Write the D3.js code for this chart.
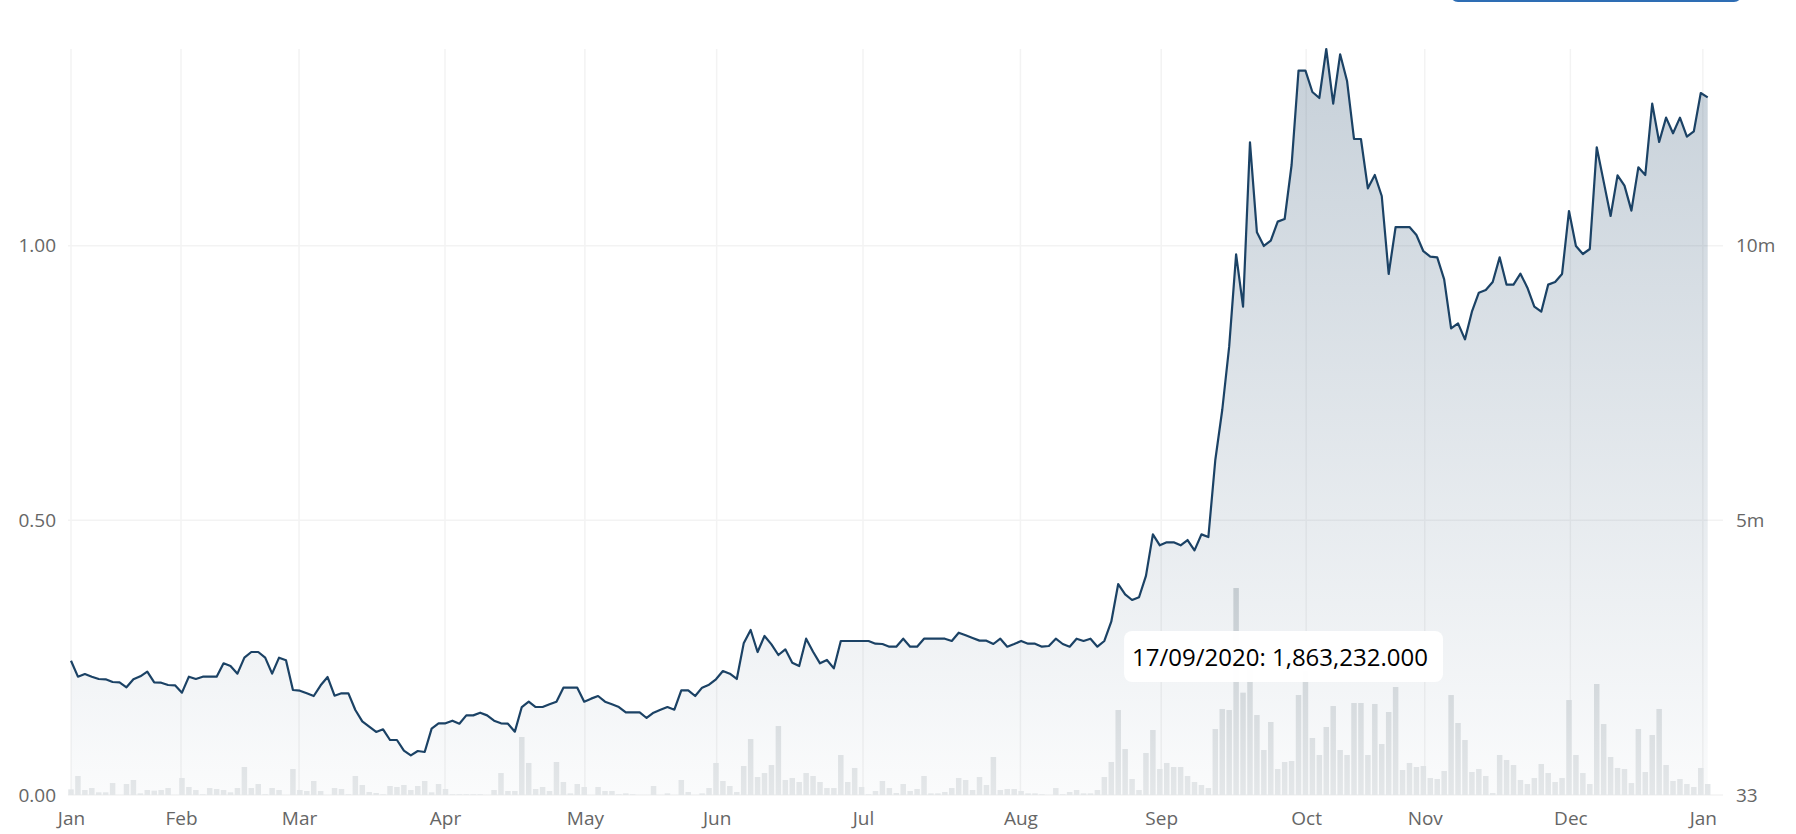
<!DOCTYPE html>
<html>
<head>
<meta charset="utf-8">
<script src="https://cdn.jsdelivr.net/npm/d3@7"></script>
<style>
  html, body { margin: 0; padding: 0; background: #ffffff; }
  svg { display: block; }
  text { font-family: "Open Sans", "Noto Sans", sans-serif; }
</style>
</head>
<body>
<svg id="chart" width="1796" height="834"></svg>
<script>
// ---- data (one point per traded session, 2020) ----
const price = [
  0.2445,0.2154,0.2203,0.2154,0.2112,0.2106,0.2057,0.2051,0.1960,0.2106,
  0.2160,0.2245,0.2051,0.2045,0.2003,0.1997,0.1863,0.2154,0.2112,0.2154,
  0.2154,0.2154,0.2397,0.2348,0.2209,0.2500,0.2603,0.2603,0.2500,0.2209,
  0.2500,0.2452,0.1912,0.1899,0.1851,0.1802,0.1997,0.2148,0.1808,0.1851,
  0.1851,0.1547,0.1341,0.1244,0.1147,0.1196,0.1001,0.1001,0.0807,0.0722,
  0.0801,0.0783,0.1208,0.1305,0.1305,0.1353,0.1298,0.1450,0.1450,0.1499,
  0.1450,0.1353,0.1305,0.1298,0.1153,0.1602,0.1699,0.1602,0.1602,0.1651,
  0.1699,0.1954,0.1954,0.1954,0.1699,0.1754,0.1802,0.1699,0.1651,0.1602,
  0.1505,0.1505,0.1505,0.1402,0.1499,0.1553,0.1602,0.1553,0.1906,0.1906,
  0.1802,0.1954,0.2008,0.2106,0.2257,0.2209,0.2112,0.2761,0.3004,0.2603,
  0.2895,0.2743,0.2549,0.2652,0.2409,0.2348,0.2846,0.2609,0.2397,0.2458,
  0.2306,0.2804,0.2804,0.2804,0.2804,0.2804,0.2755,0.2749,0.2700,0.2700,
  0.2846,0.2700,0.2700,0.2846,0.2846,0.2846,0.2846,0.2804,0.2955,0.2907,
  0.2858,0.2810,0.2810,0.2749,0.2846,0.2700,0.2749,0.2804,0.2755,0.2755,
  0.2700,0.2713,0.2846,0.2749,0.2700,0.2846,0.2804,0.2846,0.2700,0.2804,
  0.3155,0.3841,0.3653,0.3550,0.3600,0.3990,0.4745,0.4545,0.4600,0.4600,
  0.4545,0.4642,0.4454,0.4745,0.4697,0.6099,0.7009,0.8162,0.9843,0.8890,
  1.1882,1.0243,0.9995,1.0092,1.0438,1.0486,1.1469,1.3187,1.3187,1.2798,
  1.2689,1.3581,1.2586,1.3484,1.2998,1.1943,1.1943,1.1044,1.1287,1.0905,
  0.9485,1.0340,1.0340,1.0340,1.0195,0.9900,0.9800,0.9788,0.9388,0.8496,
  0.8587,0.8295,0.8799,0.9145,0.9193,0.9339,0.9788,0.9291,0.9291,0.9491,
  0.9236,0.8890,0.8799,0.9291,0.9339,0.9485,1.0632,0.9995,0.9849,0.9940,
  1.1791,1.1166,1.0541,1.1281,1.1093,1.0638,1.1427,1.1287,1.2586,1.1888,
  1.2331,1.2046,1.2331,1.1985,1.2082,1.2780,1.2701
];

// volume in thousands of shares
const volumeK = [
  103,346,91,127,49,49,218,0,200,273,
  30,91,79,91,127,0,309,146,91,12,
  127,109,91,49,127,510,127,200,12,127,
  91,0,473,91,73,255,73,0,127,109,
  12,346,182,55,36,12,164,146,182,91,
  164,255,49,200,109,12,12,12,12,12,
  0,91,400,73,73,1056,583,109,146,73,
  601,237,30,200,146,0,146,73,73,12,
  30,12,0,0,164,0,30,0,273,55,
  0,30,127,583,255,164,55,528,1019,328,
  400,546,1256,273,309,237,400,346,237,127,
  127,728,237,492,146,12,73,255,127,36,
  200,73,109,346,30,30,55,127,309,273,
  91,328,182,692,91,109,109,73,30,30,
  12,0,127,12,55,91,30,30,91,328,
  601,1547,837,291,91,765,1183,473,583,510,
  510,346,237,182,127,1201,1566,1547,3768,1863.232,
  2300,1456,819,1329,473,601,619,1820,2250,1038,
  728,1238,1620,819,728,1675,1675,728,1657,928,
  1511,1966,455,583,510,528,309,291,437,1820,
  1311,1001,419,473,346,36,728,637,546,273,
  200,309,564,400,237,309,1729,728,400,200,
  2021,1292,692,492,473,218,1201,419,1092,1566,
  546,255,291,200,146,492,200
];

// month boundaries, expressed on the session-index axis
const monthLabels  = ["Jan","Feb","Mar","Apr","May","Jun","Jul","Aug","Sep","Oct","Nov","Dec","Jan"];
const monthTickIdx = [0, 15.86, 32.88, 53.93, 74.1, 93.1, 114.2, 136.9, 157.2, 178.1, 195.2, 216.2, 235.3];

const priceTicks = [0, 0.5, 1.0];
const volTicks   = [33, 5000000, 10000000];
const volLabels  = ["33", "5m", "10m"];

const tooltipIdx  = 169;
const tooltipDate = "17/09/2020";

// ---- drawing ----
const svg = d3.select("#chart");
const N = price.length;

const x = d3.scaleLinear().domain([0, N - 1]).range([71, 1707.7]);
const yP = d3.scaleLinear().domain([0, d3.max(price)]).range([795, 49]);
const yV = d3.scaleLinear().domain([0, d3.max(price) * 1e7]).range([795, 49]);

const defs = svg.append("defs");
const ag = defs.append("linearGradient").attr("id", "areaGrad")
  .attr("gradientUnits", "userSpaceOnUse").attr("x1", 0).attr("x2", 0).attr("y1", 49).attr("y2", 795);
ag.append("stop").attr("offset", 0).attr("stop-color", "#1c4366").attr("stop-opacity", 0.25);
ag.append("stop").attr("offset", 1).attr("stop-color", "#1c4366").attr("stop-opacity", 0.02);

const bg = defs.append("linearGradient").attr("id", "barGrad")
  .attr("gradientUnits", "userSpaceOnUse").attr("x1", 0).attr("x2", 0).attr("y1", 586).attr("y2", 795);
bg.append("stop").attr("offset", 0).attr("stop-color", "#c5ccd1");
bg.append("stop").attr("offset", 1).attr("stop-color", "#e4e7e9");

// gridlines
const grid = svg.append("g");
grid.selectAll("line.v").data(monthTickIdx).join("line")
  .attr("x1", d => x(d)).attr("x2", d => x(d))
  .attr("y1", 49).attr("y2", 795)
  .attr("stroke", "#f3f3f3").attr("stroke-width", 1.5);
grid.selectAll("line.h").data(priceTicks).join("line")
  .attr("x1", 68).attr("x2", 1723)
  .attr("y1", d => yP(d)).attr("y2", d => yP(d))
  .attr("stroke", "#f3f3f3").attr("stroke-width", 1.5);

// area
const idx = d3.range(N);
svg.append("path")
  .datum(idx)
  .attr("fill", "url(#areaGrad)")
  .attr("d", d3.area().x(i => x(i)).y0(yP(0)).y1(i => yP(price[i])));

// volume bars
const bw = 5.5;
svg.append("g").selectAll("rect").data(idx).join("rect")
  .attr("x", i => x(i) - bw / 2)
  .attr("width", bw)
  .attr("y", i => yV(volumeK[i] * 1000))
  .attr("height", i => yV(0) - yV(volumeK[i] * 1000))
  .attr("fill", "url(#barGrad)");

// price line
svg.append("path")
  .datum(idx)
  .attr("fill", "none")
  .attr("stroke", "#1b4265")
  .attr("stroke-width", 2.2)
  .attr("stroke-linejoin", "round")
  .attr("d", d3.line().x(i => x(i)).y(i => yP(price[i])));

// axes
function styleAxis(g) {
  g.select(".domain").remove();
  g.selectAll(".tick line").remove();
  g.selectAll("text").attr("fill", "#666666").style("font-size", "19px")
    .style("font-family", '"Open Sans", sans-serif');
}
svg.append("g").attr("transform", "translate(71,0)")
  .call(d3.axisLeft(yP).tickValues(priceTicks).tickFormat(d3.format(".2f")).tickSize(0).tickPadding(15))
  .call(styleAxis);
svg.append("g").attr("transform", "translate(1723,0)")
  .call(d3.axisRight(yV).tickValues(volTicks).tickFormat((d, i) => volLabels[i]).tickSize(0).tickPadding(13))
  .call(styleAxis);
svg.append("g").attr("transform", "translate(0,795)")
  .call(d3.axisBottom(x).tickValues(monthTickIdx).tickFormat((d, i) => monthLabels[i]).tickSize(0).tickPadding(17))
  .call(styleAxis);

// tooltip
const tx = x(tooltipIdx);
const tip = svg.append("g").attr("transform", `translate(${tx - 119},631)`);
tip.append("rect").attr("width", 319).attr("height", 51).attr("rx", 8)
  .attr("fill", "#ffffff").attr("fill-opacity", 0.97);
tip.append("text").attr("x", 8).attr("y", 35)
  .attr("fill", "#000000").style("font-size", "24px")
  .text(`${tooltipDate}: ${d3.format(",.3f")(volumeK[tooltipIdx] * 1000)}`);

// partially visible control above the chart
svg.append("rect").attr("x", 1451).attr("y", -40).attr("width", 290).attr("height", 41)
  .attr("rx", 7).attr("fill", "#ffffff").attr("stroke", "#2e6db4").attr("stroke-width", 2);
</script>
</body>
</html>
